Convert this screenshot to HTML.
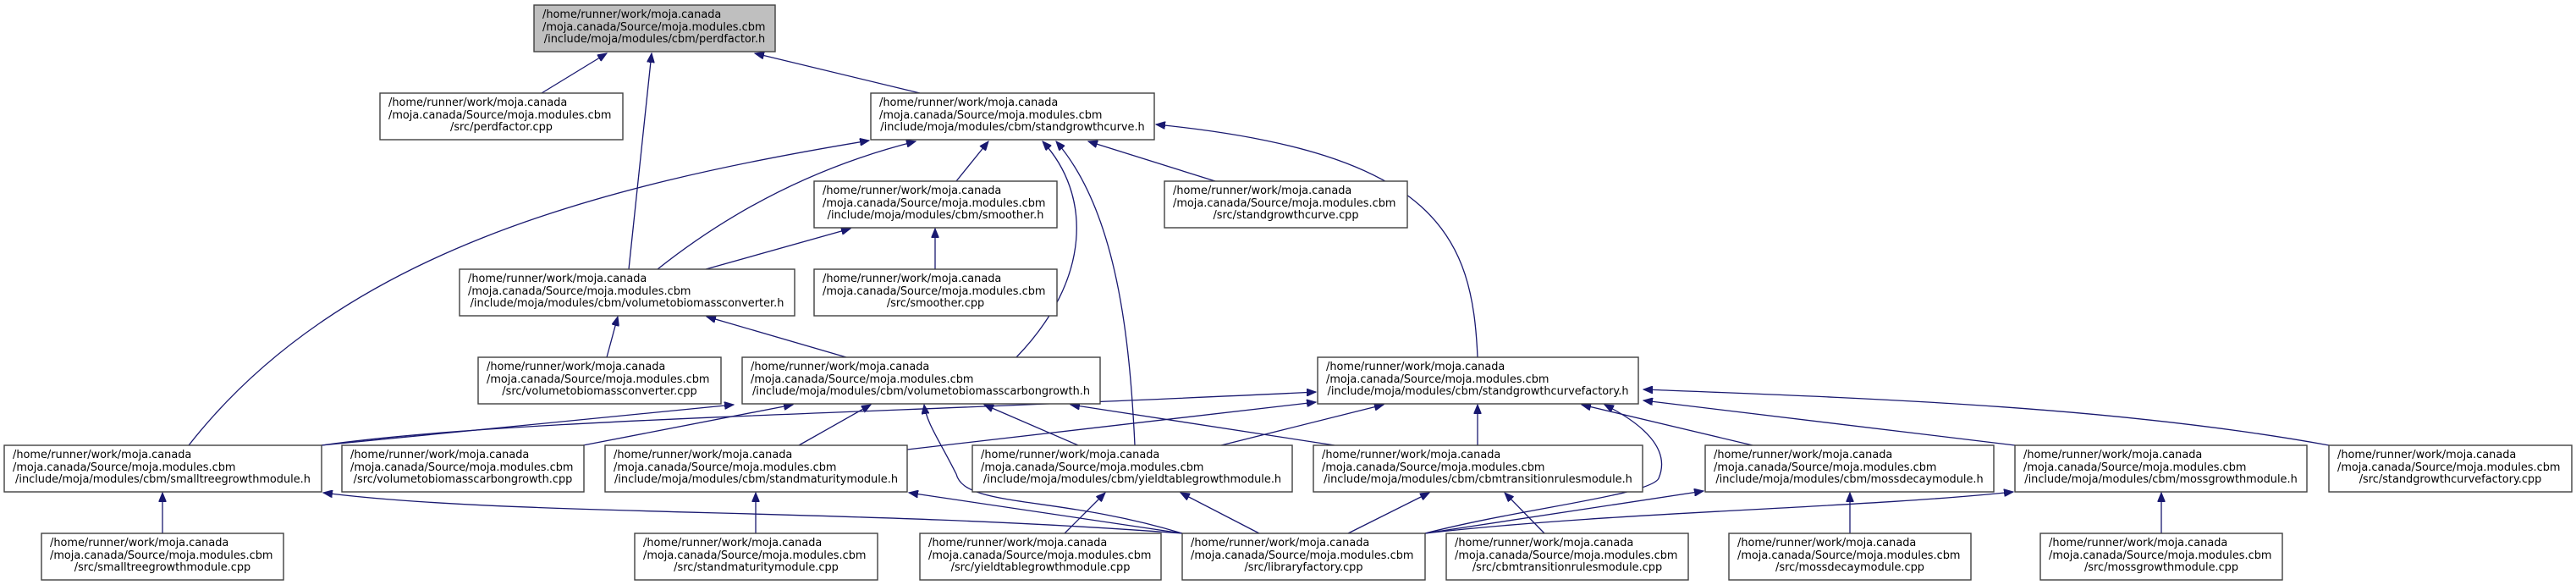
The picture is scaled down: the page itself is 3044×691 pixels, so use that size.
<!DOCTYPE html>
<html><head><meta charset="utf-8"><style>
html,body{margin:0;padding:0;background:#fff;}
svg{display:block;}
text{font-family:"DejaVu Sans","Liberation Sans",sans-serif;font-size:12.9px;fill:#000;}
.n{fill:#fff;stroke:#404040;stroke-width:1.4;}
.e{fill:none;stroke:#191970;stroke-width:1.3;marker-end:url(#a);}
</style></head><body>
<svg width="3044" height="691" viewBox="0 0 3044 691" xmlns="http://www.w3.org/2000/svg">
<defs><marker id="a" markerUnits="userSpaceOnUse" markerWidth="12" markerHeight="9" refX="11" refY="4.5" orient="auto"><path d="M0,0 L11,4.5 L0,9 z" fill="#191970" stroke="#191970"/></marker></defs>

<!-- edges -->
<path class="e" d="M640,110 L717,63"/>
<path class="e" d="M743,318 L770,63"/>
<path class="e" d="M1087,110 L892,63"/>
<path class="e" d="M223,526 C400,300 700,220 1027,166"/>
<path class="e" d="M777,318 C850,260 950,200 1082,167"/>
<path class="e" d="M1130,214 L1168,167"/>
<path class="e" d="M834,318 L1005,270"/>
<path class="e" d="M1105,318 L1105,270"/>
<path class="e" d="M1436,214 L1286,167"/>
<path class="e" d="M1201,422 C1290,330 1290,230 1232,167"/>
<path class="e" d="M1341,526 C1335,400 1320,250 1248,167"/>
<path class="e" d="M1746,422 C1740,280 1700,180 1366,147"/>
<path class="e" d="M717,422 L730,374"/>
<path class="e" d="M1000,422 L835,374"/>
<path class="e" d="M380,526 L867,478"/>
<path class="e" d="M380,526 C600,495 1000,490 1555,463"/>
<path class="e" d="M689,526 L937,478"/>
<path class="e" d="M944,526 L1029,478"/>
<path class="e" d="M1072,531 L1555,475"/>
<path class="e" d="M1274,526 L1163,478"/>
<path class="e" d="M1577,526 L1265,478"/>
<path class="e" d="M1397,630 C1250,585 1140,600 1130,560 C1110,520 1095,500 1092,478"/>
<path class="e" d="M1443,526 L1635,478"/>
<path class="e" d="M1746,526 L1746,478"/>
<path class="e" d="M1684,630 C1800,600 1950,585 1960,565 C1975,530 1940,500 1896,478"/>
<path class="e" d="M2071,526 L1869,478"/>
<path class="e" d="M2381,526 L1942,473"/>
<path class="e" d="M2752,526 C2500,480 2200,470 1942,460"/>
<path class="e" d="M1684,630 L2013,580"/>
<path class="e" d="M1684,630 C1900,605 2200,600 2379,581"/>
<path class="e" d="M192,630 L192,582"/>
<path class="e" d="M1397,630 C1000,600 600,610 382,582"/>
<path class="e" d="M1397,630 L1074,582"/>
<path class="e" d="M893,630 L893,582"/>
<path class="e" d="M1258,630 L1306,582"/>
<path class="e" d="M1488,630 L1395,582"/>
<path class="e" d="M1593,630 L1689,582"/>
<path class="e" d="M1825,630 L1778,582"/>
<path class="e" d="M2186,630 L2186,582"/>
<path class="e" d="M2554,630 L2554,582"/>

<!-- nodes -->
<g>
<rect x="631" y="6" width="285" height="55" style="fill:#bfbfbf;stroke:#404040;stroke-width:1.4"/>
<text x="641" y="21">/home/runner/work/moja.canada</text><text x="641" y="36">/moja.canada/Source/moja.modules.cbm</text><text x="773.5" y="50" text-anchor="middle">/include/moja/modules/cbm/perdfactor.h</text>

<rect class="n" x="449" y="110" width="287" height="55"/>
<text x="459" y="125">/home/runner/work/moja.canada</text><text x="459" y="140">/moja.canada/Source/moja.modules.cbm</text><text x="592.5" y="154" text-anchor="middle">/src/perdfactor.cpp</text>

<rect class="n" x="1029" y="110" width="335" height="55"/>
<text x="1039" y="125">/home/runner/work/moja.canada</text><text x="1039" y="140">/moja.canada/Source/moja.modules.cbm</text><text x="1196.5" y="154" text-anchor="middle">/include/moja/modules/cbm/standgrowthcurve.h</text>

<rect class="n" x="962" y="214" width="287" height="55"/>
<text x="972" y="229">/home/runner/work/moja.canada</text><text x="972" y="244">/moja.canada/Source/moja.modules.cbm</text><text x="1105.5" y="258" text-anchor="middle">/include/moja/modules/cbm/smoother.h</text>

<rect class="n" x="1376" y="214" width="287" height="55"/>
<text x="1386" y="229">/home/runner/work/moja.canada</text><text x="1386" y="244">/moja.canada/Source/moja.modules.cbm</text><text x="1519.5" y="258" text-anchor="middle">/src/standgrowthcurve.cpp</text>

<rect class="n" x="543" y="318" width="396" height="55"/>
<text x="553" y="333">/home/runner/work/moja.canada</text><text x="553" y="348">/moja.canada/Source/moja.modules.cbm</text><text x="741" y="362" text-anchor="middle">/include/moja/modules/cbm/volumetobiomassconverter.h</text>

<rect class="n" x="962" y="318" width="287" height="55"/>
<text x="972" y="333">/home/runner/work/moja.canada</text><text x="972" y="348">/moja.canada/Source/moja.modules.cbm</text><text x="1105.5" y="362" text-anchor="middle">/src/smoother.cpp</text>

<rect class="n" x="565" y="422" width="287" height="55"/>
<text x="575" y="437">/home/runner/work/moja.canada</text><text x="575" y="452">/moja.canada/Source/moja.modules.cbm</text><text x="708.5" y="466" text-anchor="middle">/src/volumetobiomassconverter.cpp</text>

<rect class="n" x="877" y="422" width="423" height="55"/>
<text x="887" y="437">/home/runner/work/moja.canada</text><text x="887" y="452">/moja.canada/Source/moja.modules.cbm</text><text x="1088.5" y="466" text-anchor="middle">/include/moja/modules/cbm/volumetobiomasscarbongrowth.h</text>

<rect class="n" x="1557" y="422" width="379" height="55"/>
<text x="1567" y="437">/home/runner/work/moja.canada</text><text x="1567" y="452">/moja.canada/Source/moja.modules.cbm</text><text x="1746.5" y="466" text-anchor="middle">/include/moja/modules/cbm/standgrowthcurvefactory.h</text>

<rect class="n" x="5" y="526" width="375" height="55"/>
<text x="15" y="541">/home/runner/work/moja.canada</text><text x="15" y="556">/moja.canada/Source/moja.modules.cbm</text><text x="192.5" y="570" text-anchor="middle">/include/moja/modules/cbm/smalltreegrowthmodule.h</text>

<rect class="n" x="404" y="526" width="286" height="55"/>
<text x="414" y="541">/home/runner/work/moja.canada</text><text x="414" y="556">/moja.canada/Source/moja.modules.cbm</text><text x="547" y="570" text-anchor="middle">/src/volumetobiomasscarbongrowth.cpp</text>

<rect class="n" x="715" y="526" width="357" height="55"/>
<text x="725" y="541">/home/runner/work/moja.canada</text><text x="725" y="556">/moja.canada/Source/moja.modules.cbm</text><text x="893.5" y="570" text-anchor="middle">/include/moja/modules/cbm/standmaturitymodule.h</text>

<rect class="n" x="1149" y="526" width="378" height="55"/>
<text x="1159" y="541">/home/runner/work/moja.canada</text><text x="1159" y="556">/moja.canada/Source/moja.modules.cbm</text><text x="1338" y="570" text-anchor="middle">/include/moja/modules/cbm/yieldtablegrowthmodule.h</text>

<rect class="n" x="1552" y="526" width="389" height="55"/>
<text x="1562" y="541">/home/runner/work/moja.canada</text><text x="1562" y="556">/moja.canada/Source/moja.modules.cbm</text><text x="1746.5" y="570" text-anchor="middle">/include/moja/modules/cbm/cbmtransitionrulesmodule.h</text>

<rect class="n" x="2015" y="526" width="341" height="55"/>
<text x="2025" y="541">/home/runner/work/moja.canada</text><text x="2025" y="556">/moja.canada/Source/moja.modules.cbm</text><text x="2185.5" y="570" text-anchor="middle">/include/moja/modules/cbm/mossdecaymodule.h</text>

<rect class="n" x="2381" y="526" width="345" height="55"/>
<text x="2391" y="541">/home/runner/work/moja.canada</text><text x="2391" y="556">/moja.canada/Source/moja.modules.cbm</text><text x="2553.5" y="570" text-anchor="middle">/include/moja/modules/cbm/mossgrowthmodule.h</text>

<rect class="n" x="2752" y="526" width="287" height="55"/>
<text x="2762" y="541">/home/runner/work/moja.canada</text><text x="2762" y="556">/moja.canada/Source/moja.modules.cbm</text><text x="2895.5" y="570" text-anchor="middle">/src/standgrowthcurvefactory.cpp</text>

<rect class="n" x="49" y="630" width="286" height="55"/>
<text x="59" y="645">/home/runner/work/moja.canada</text><text x="59" y="660">/moja.canada/Source/moja.modules.cbm</text><text x="192" y="674" text-anchor="middle">/src/smalltreegrowthmodule.cpp</text>

<rect class="n" x="750" y="630" width="287" height="55"/>
<text x="760" y="645">/home/runner/work/moja.canada</text><text x="760" y="660">/moja.canada/Source/moja.modules.cbm</text><text x="893.5" y="674" text-anchor="middle">/src/standmaturitymodule.cpp</text>

<rect class="n" x="1087" y="630" width="285" height="55"/>
<text x="1097" y="645">/home/runner/work/moja.canada</text><text x="1097" y="660">/moja.canada/Source/moja.modules.cbm</text><text x="1229.5" y="674" text-anchor="middle">/src/yieldtablegrowthmodule.cpp</text>

<rect class="n" x="1397" y="630" width="287" height="55"/>
<text x="1407" y="645">/home/runner/work/moja.canada</text><text x="1407" y="660">/moja.canada/Source/moja.modules.cbm</text><text x="1540.5" y="674" text-anchor="middle">/src/libraryfactory.cpp</text>

<rect class="n" x="1709" y="630" width="286" height="55"/>
<text x="1719" y="645">/home/runner/work/moja.canada</text><text x="1719" y="660">/moja.canada/Source/moja.modules.cbm</text><text x="1852" y="674" text-anchor="middle">/src/cbmtransitionrulesmodule.cpp</text>

<rect class="n" x="2043" y="630" width="286" height="55"/>
<text x="2053" y="645">/home/runner/work/moja.canada</text><text x="2053" y="660">/moja.canada/Source/moja.modules.cbm</text><text x="2186" y="674" text-anchor="middle">/src/mossdecaymodule.cpp</text>

<rect class="n" x="2411" y="630" width="286" height="55"/>
<text x="2421" y="645">/home/runner/work/moja.canada</text><text x="2421" y="660">/moja.canada/Source/moja.modules.cbm</text><text x="2554" y="674" text-anchor="middle">/src/mossgrowthmodule.cpp</text>
</g>
</svg>
</body></html>
